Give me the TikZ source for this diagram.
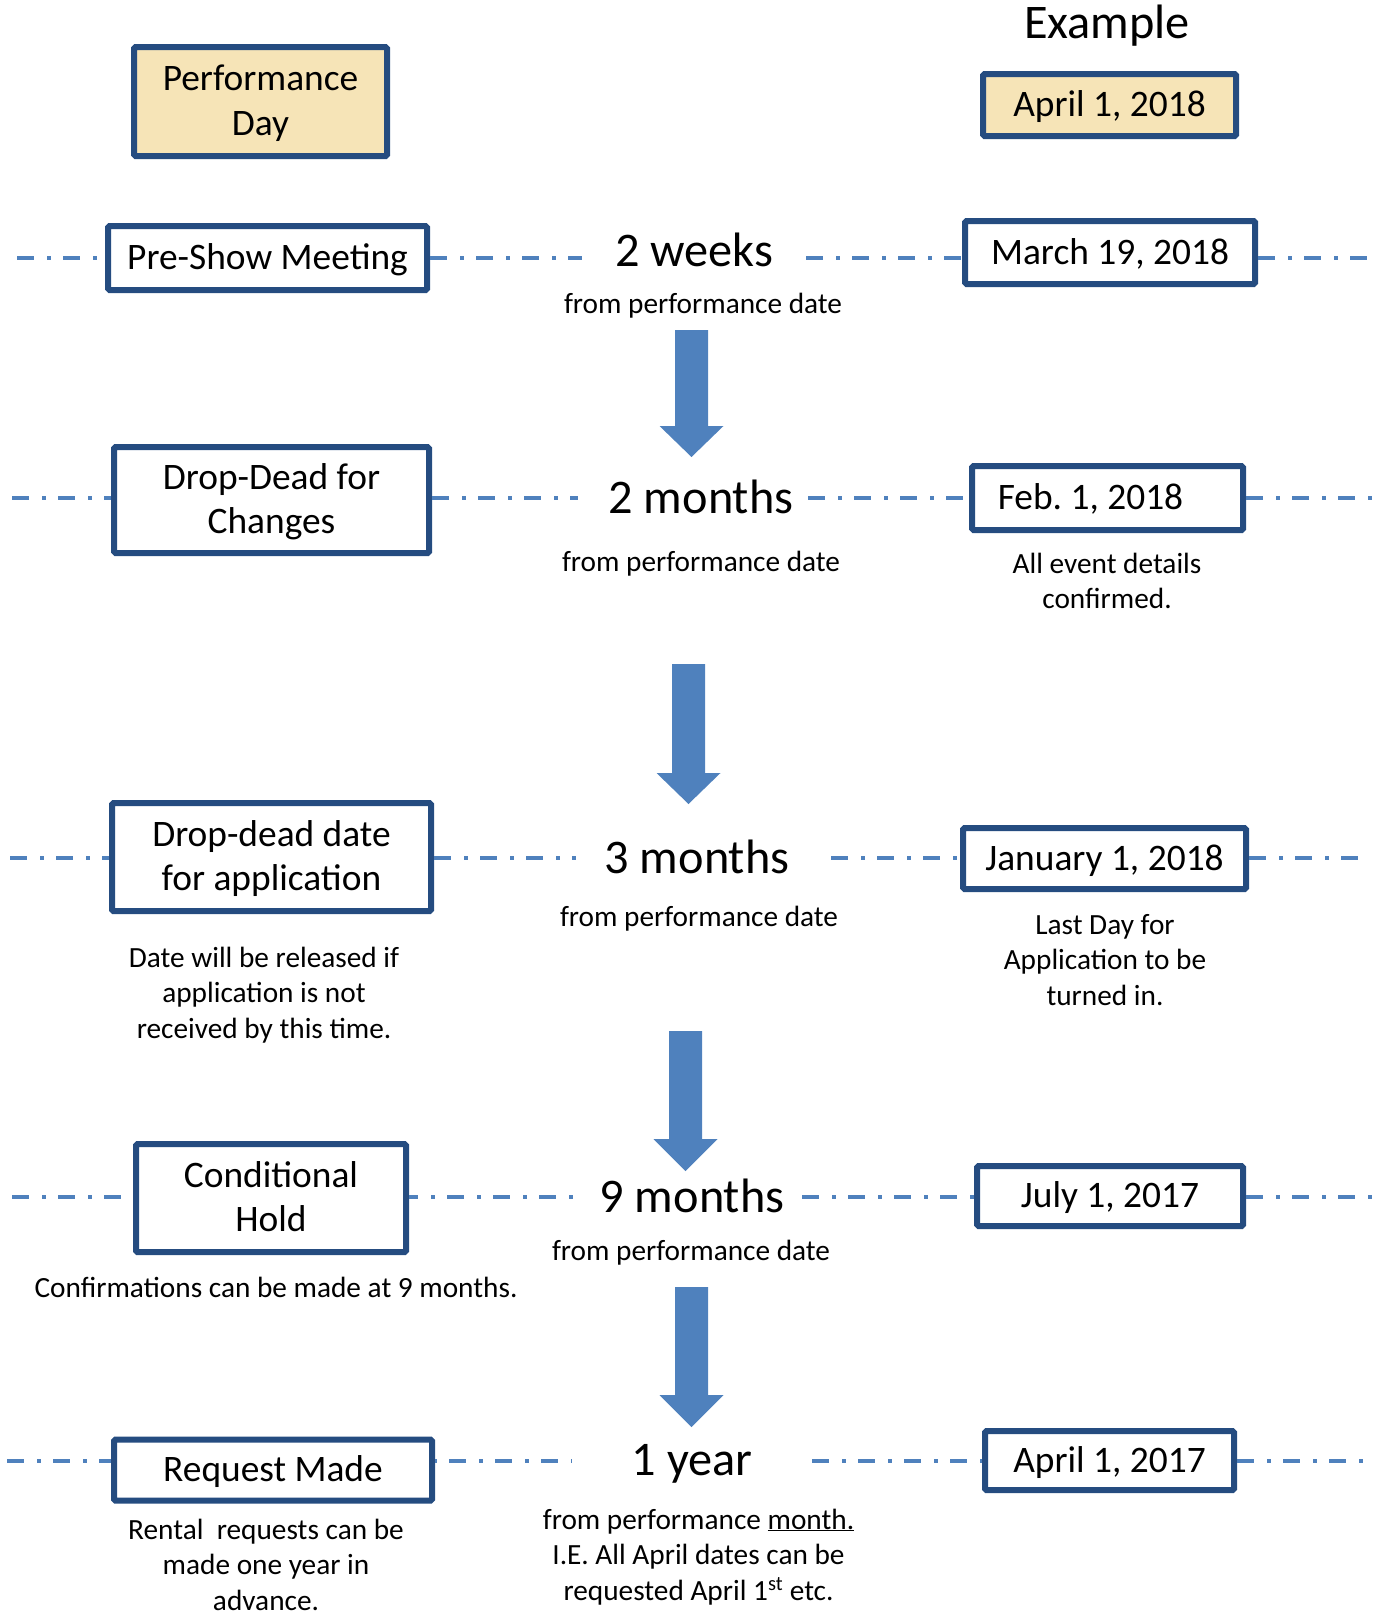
\documentclass[tikz,border=0pt]{standalone}
\usepackage{fontspec}
\setmainfont{Carlito}
\definecolor{boxblue}{RGB}{37,76,128}
\definecolor{lineblue}{RGB}{79,129,189}
\definecolor{pdfill}{RGB}{246,228,183}
\newcommand\fsbox{\fontsize{37.4}{44.5}\selectfont}
\newcommand\fsbig{\fontsize{48.3}{58}\selectfont}
\newcommand\fssmall{\fontsize{29.3}{35.5}\selectfont}
\newcommand\lines[1]{\begin{tabular}[t]{@{}c@{}}#1\end{tabular}}
\newcommand\barrow[4]{\fill[lineblue] ({#1-16.5},#2) -- ({#1+16.5},#2) -- ({#1+16.5},#3) -- ({#1+32},#3) -- (#1,#4) -- ({#1-32},#3) -- ({#1-16.5},#3) -- cycle;}
\begin{document}
\begin{tikzpicture}[x=1pt,y=-1pt,
  box/.style={draw=boxblue, line width=6pt, fill=white, rounded corners=1.5pt, inner sep=0pt, font=\fsbox, text=black},
  one/.style={text height=23.5pt, text depth=0pt},
  two/.style={text height=0pt, text depth=22pt},
  wh/.style 2 args={minimum width=#1pt, minimum height=#2pt},
  big/.style={font=\fsbig, inner sep=0pt, anchor=base},
  small/.style={font=\fssmall, inner sep=0pt, anchor=base},
  tl/.style={draw=lineblue, line width=4.5pt, dash pattern=on 17pt off 13pt on 4pt off 12pt}]
\useasboundingbox (0,0) rectangle (1384,1612);

% header
\node[box, two, fill=pdfill, wh={253}{109}] (pd) at (260.5,101.5) {\lines{Performance\\Day}};
\node[big] (ex) at (1107,38) {Example};
\node[box, one, fill=pdfill, wh={253}{62}] (apr18) at (1109.5,105) {April 1, 2018};

% row 1
\node[box, one, wh={319}{64}] (pre) at (267.5,258) {Pre-Show Meeting};
\node[big] (t1) at (694,266) {2 weeks};
\node[small] (c1) at (703,313) {from performance date};
\node[box, one, wh={290}{63}] (mar) at (1110,252.5) {March 19, 2018};
\coordinate (r1l) at (17,258);
\coordinate (r1a) at (582,258);
\coordinate (r1b) at (806,258);
\coordinate (r1r) at (1378,258);
\draw[tl] (r1l) -- (r1l -| pre.west);
\draw[tl] (r1l -| pre.east) -- (r1a);
\draw[tl] (r1b) -- (r1b -| mar.west);
\draw[tl] (r1b -| mar.east) -- (r1r);

\barrow{691.5}{330}{426}{457}

% row 2
\node[box, two, wh={315}{106}] (ddc) at (271.5,500) {\lines{Drop-Dead for\\Changes}};
\node[big] (t2) at (701,513) {2 months};
\node[small] (c2) at (701,571) {from performance date};
\node[box, one, wh={271}{64}] (feb) at (1107.5,498) {Feb.\ 1, 2018\kern34pt};
\node[small] (n2) at (1107,573) {\lines{All event details\\confirmed.}};
\coordinate (r2l) at (12,498);
\coordinate (r2a) at (578,498);
\coordinate (r2b) at (808,498);
\coordinate (r2r) at (1373,498);
\draw[tl] (r2l) -- (r2l -| ddc.west);
\draw[tl] (r2l -| ddc.east) -- (r2a);
\draw[tl] (r2b) -- (r2b -| feb.west);
\draw[tl] (r2b -| feb.east) -- (r2r);

\barrow{688.5}{664}{773}{804}

% row 3
\node[box, two, wh={319}{108}] (dda) at (271.5,857) {\lines{Drop-dead date\\for application}};
\node[small] (n3a) at (264,967) {\lines{Date will be released if\\application is not\\received by this time.}};
\node[big] (t3) at (697,873) {3 months};
\node[small] (c3) at (699,926) {from performance date};
\node[box, one, wh={283}{61}] (jan) at (1104.5,858.5) {January 1, 2018};
\node[small] (n3b) at (1105,934) {\lines{Last Day for\\Application to be\\turned in.}};
\coordinate (r3l) at (10,858);
\coordinate (r3a) at (576,858);
\coordinate (r3b) at (831,858);
\coordinate (r3r) at (1370,858);
\draw[tl] (r3l) -- (r3l -| dda.west);
\draw[tl] (r3l -| dda.east) -- (r3a);
\draw[tl] (r3b) -- (r3b -| jan.west);
\draw[tl] (r3b -| jan.east) -- (r3r);

\barrow{685.5}{1031}{1139}{1171}

% row 4
\node[box, two, wh={270}{108}] (cond) at (271,1198) {\lines{Conditional\\Hold}};
\node[small] (n4) at (276,1297) {Confirmations can be made at 9 months.};
\node[big] (t4) at (692,1212) {9 months};
\node[small] (c4) at (691,1260) {from performance date};
\node[box, one, wh={266}{60}] (jul) at (1110,1196) {July 1, 2017};
\coordinate (r4l) at (12,1197);
\coordinate (r4a) at (578,1197);
\coordinate (r4b) at (802,1197);
\coordinate (r4r) at (1373,1197);
\draw[tl] (r4l) -- (r4l -| cond.west);
\draw[tl, dash phase=8pt] (r4l -| cond.east) -- (r4a);
\draw[tl] (r4b) -- (r4b -| jul.west);
\draw[tl] (r4b -| jul.east) -- (r4r);

\barrow{691.5}{1287}{1395}{1427}

% row 5
\node[box, one, wh={318}{61}] (req) at (273,1470) {Request Made};
\node[small] (n5a) at (266,1539) {\lines{Rental\ \ requests can be\\made one year in\\advance.}};
\node[big] (t5) at (692,1475) {1 year};
\node[small] (c5) at (698.5,1529) {\lines{from performance \underline{month.}\\I.E. All April dates can be\\requested April 1\textsuperscript{st} etc.}};
\node[box, one, wh={249}{59}] (apr17) at (1109.5,1460.5) {April 1, 2017};
\coordinate (r5l) at (7,1461);
\coordinate (r5a) at (572,1461);
\coordinate (r5b) at (812,1461);
\coordinate (r5r) at (1367,1461);
\draw[tl] (r5l) -- (r5l -| req.west);
\draw[tl, dash phase=-14pt] (r5l -| req.east) -- (r5a);
\draw[tl] (r5b) -- (r5b -| apr17.west);
\draw[tl] (r5b -| apr17.east) -- (r5r);
\end{tikzpicture}
\end{document}
